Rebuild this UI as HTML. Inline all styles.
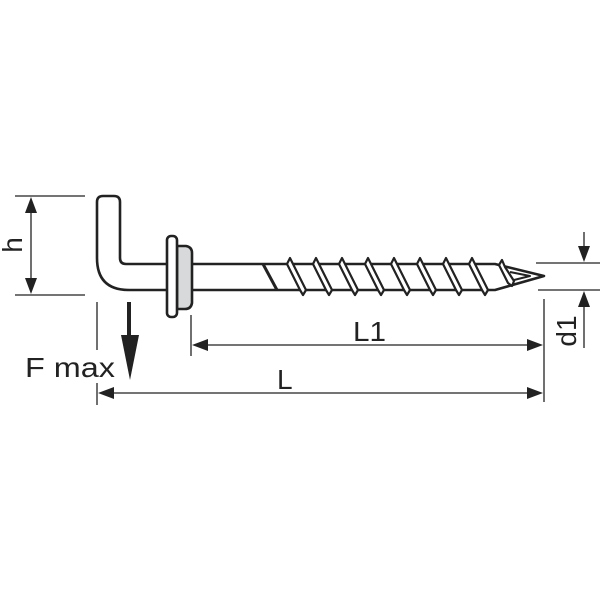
<!DOCTYPE html>
<html><head><style>html,body{margin:0;padding:0;background:#fff}svg{display:block}</style></head>
<body>
<svg width="600" height="600" viewBox="0 0 600 600" xmlns="http://www.w3.org/2000/svg">
<g stroke="#222" fill="none" stroke-width="2.6" stroke-linejoin="round">
<path d="M188,264 L126,264 Q120,264 120,258 L120,202 Q120,196 114,196 L103,196 Q97,196 97,202 L97,258 Q97,290 129,290 L188,290" fill="#fff"/>
<path d="M190,264 L495,264 L544,276 L495,290 L190,290"/>
<path d="M263,264 L277,290" stroke-width="3"/>
<g fill="#fff" stroke-width="2.2">
<polygon points="287,264 290,258 293,264 306,290 303,295 300,290"/>
<polygon points="313,264 316,258 319,264 332,290 329,295 326,290"/>
<polygon points="339,264 342,258 345,264 358,290 355,295 352,290"/>
<polygon points="365,264 368,258 371,264 384,290 381,295 378,290"/>
<polygon points="391,264 394,258 397,264 410,290 407,295 404,290"/>
<polygon points="417,264 420,258 423,264 436,290 433,295 430,290"/>
<polygon points="443,264 446,258 449,264 462,290 459,295 456,290"/>
<polygon points="469,264 472,258 475,264 488,290 485,295 482,290"/>
<polygon points="499,265 502,260 505,267 514,281 512,286 508,283"/>
</g>
<path d="M510,272 L530,276 L514,280" stroke-width="2"/>
<path d="M177,246 L186,246 Q192,247 192,253 L192,303 Q191,309 185,309 L177,309 Z" fill="#d8d9da"/>
<rect x="167" y="236" width="10" height="81" rx="4" fill="#fff"/>
</g>
<g stroke="#222" stroke-width="1.3" fill="none">
<line x1="15" y1="196" x2="85" y2="196"/><line x1="15" y1="295" x2="85" y2="295"/>
<line x1="31" y1="210" x2="31" y2="282"/>
<line x1="191" y1="315" x2="191" y2="356"/>
<line x1="544" y1="299" x2="544" y2="402"/>
<line x1="205" y1="345" x2="530" y2="345"/>
<line x1="97" y1="302" x2="97" y2="350"/><line x1="97" y1="383" x2="97" y2="405"/>
<line x1="111" y1="393" x2="530" y2="393"/>
<line x1="536" y1="263" x2="600" y2="263"/><line x1="538" y1="290" x2="600" y2="290"/>
<line x1="584" y1="232" x2="584" y2="250"/><line x1="584" y1="303" x2="584" y2="348"/>
</g>
<g fill="#222">
<polygon points="31,197 25,213 37,213"/><polygon points="31,294 25,278 37,278"/>
<polygon points="192,345 208,339 208,351"/><polygon points="543,345 527,339 527,351"/>
<polygon points="98,393 114,387 114,399"/><polygon points="543,393 527,387 527,399"/>
<polygon points="584,262 578,246 590,246"/><polygon points="584,291 578,307 590,307"/>
<rect x="127" y="302" width="4" height="36"/>
<polygon points="121,335 139,335 130,380"/>
</g>
<g font-family="Liberation Sans, sans-serif" font-size="28" fill="#222">
<text x="25" y="377" textLength="90" lengthAdjust="spacingAndGlyphs">F max</text>
<text x="353" y="341" textLength="33" lengthAdjust="spacingAndGlyphs">L1</text>
<text x="277" y="389">L</text>
<text transform="translate(22,245) rotate(-90)" text-anchor="middle">h</text>
<text transform="translate(576,331) rotate(-90)" text-anchor="middle">d1</text>
</g>
</svg>
</body></html>
